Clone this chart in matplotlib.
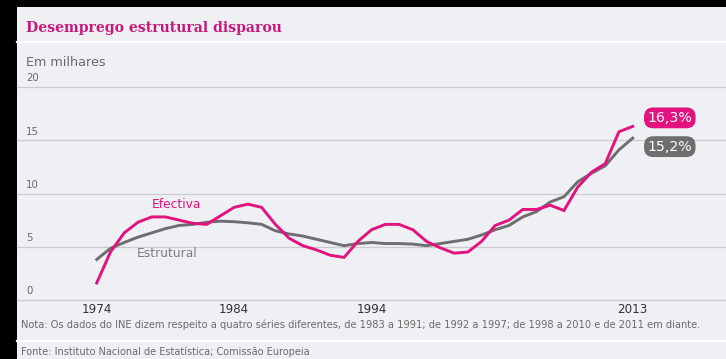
import matplotlib
matplotlib.use("Agg")
import matplotlib.pyplot as plt
from matplotlib.transforms import blended_transform_factory
from matplotlib.patches import Rectangle

# Series data (thousands, per the chart subtitle)
years = list(range(1974, 2014))
efectiva = [1.6, 4.5, 6.3, 7.3, 7.8, 7.8, 7.5, 7.2, 7.1, 7.9,
            8.7, 9.0, 8.7, 7.1, 5.8, 5.1, 4.7, 4.2, 4.0, 5.5,
            6.6, 7.1, 7.1, 6.6, 5.5, 4.9, 4.4, 4.5, 5.5, 7.0,
            7.5, 8.5, 8.5, 8.9, 8.4, 10.6, 12.0, 12.8, 15.8, 16.3]
estrutural = [3.8, 4.85, 5.4, 5.9, 6.3, 6.7, 7.0, 7.1, 7.3, 7.4,
              7.35, 7.25, 7.1, 6.5, 6.2, 6.0, 5.7, 5.4, 5.1, 5.3,
              5.4, 5.3, 5.3, 5.25, 5.1, 5.3, 5.5, 5.7, 6.1, 6.6,
              7.0, 7.8, 8.3, 9.2, 9.7, 11.1, 11.9, 12.6, 14.1, 15.2]
y_ticks = [0, 5, 10, 15, 20]
x_ticks = [1974, 1984, 1994, 2013]
end_labels = ["16,3%", "15,2%"]

title = "Desemprego estrutural disparou"
unit = "Em milhares"
note = ("Nota: Os dados do INE dizem respeito a quatro séries diferentes, "
        "de 1983 a 1991; de 1992 a 1997; de 1998 a 2010 e de 2011 em diante.")
source = "Fonte: Instituto Nacional de Estatística; Comissão Europeia"

PINK = "#e2127f"
GREY = "#6e6e6e"
BG = "#eef0f3"
GRID = "#c9cbce"
TXT = "#6a6a6a"
SANS = "DejaVu Sans"

W, H = 726, 359
fig = plt.figure(figsize=(W / 100, H / 100), dpi=100)
fig.patch.set_facecolor("black")

def fx(px):
    return px / W

def fy(py):
    return 1 - py / H

# light panel with black strips on the left and top
fig.add_artist(Rectangle((fx(17), 0), 1 - fx(17), fy(7), transform=fig.transFigure,
                         facecolor=BG, edgecolor="none", zorder=0))
# white separator lines
for py in (42, 341):
    fig.add_artist(plt.Line2D([fx(17), 1], [fy(py), fy(py)], transform=fig.transFigure,
                              color="white", lw=1.6, zorder=1))

fig.text(fx(26), fy(28), title, family="DejaVu Serif", weight="bold",
         fontsize=10.1, color="#c8177c", va="center", ha="left")
fig.text(fx(26), fy(62), unit, family=SANS, fontsize=9.2, color=TXT,
         va="center", ha="left")

# axes: value 0 at y=300px, 20 at y=87px; x spans the panel
x_left, x_right = 17, 726
px_per_year = (632.7 - 96.7) / 39
ax = fig.add_axes([fx(x_left), fy(300), fx(x_right - x_left), fy(87) - fy(300)])
ax.set_facecolor("none")
ax.set_xlim(1974 - (96.7 - x_left) / px_per_year, 2013 + (x_right - 632.7) / px_per_year)
ax.set_ylim(0, 20)
for s in ax.spines.values():
    s.set_visible(False)

ax.set_yticks(y_ticks)
ax.set_yticklabels([])
ax.tick_params(axis="y", length=0)
ax.grid(axis="y", color=GRID, lw=0.9)
ax.set_axisbelow(True)
for gl in ax.yaxis.get_gridlines():
    gl.set_clip_on(False)

lab_tr = blended_transform_factory(fig.transFigure, ax.transData)
for v in y_ticks:
    ax.text(fx(26), v + 0.8, str(v), transform=lab_tr, fontsize=7.4,
            family=SANS, color=TXT, va="center", ha="left")

ax.set_xticks(x_ticks)
ax.set_xticklabels([str(t) for t in x_ticks], family=SANS, fontsize=8.6, color="#333333")
ax.tick_params(axis="x", length=0, pad=2)

ax.plot(years, estrutural, color=GREY, lw=2.1, solid_joinstyle="miter", zorder=3)
ax.plot(years, efectiva, color=PINK, lw=2.1, solid_joinstyle="miter", zorder=4)

ax.text(1979.8, 9.0, "Efectiva", color=PINK, fontsize=8.8, family=SANS,
        ha="center", va="center")
ax.text(1979.1, 4.4, "Estrutural", color="#7d7d7d", fontsize=8.8, family=SANS,
        ha="center", va="center")

# end-value badges
ax.text(years[-1] + 2.7, efectiva[-1] + 0.8, end_labels[0], color="white",
        fontsize=10.2, family=SANS, ha="center", va="center", zorder=5,
        bbox=dict(boxstyle="round,pad=0.24,rounding_size=0.65", fc=PINK, ec="none"))
ax.text(years[-1] + 2.7, estrutural[-1] - 0.8, end_labels[1], color="white",
        fontsize=10.2, family=SANS, ha="center", va="center", zorder=5,
        bbox=dict(boxstyle="round,pad=0.24,rounding_size=0.65", fc=GREY, ec="none"))
for a in ax.lines:
    a.set_clip_on(False)

fig.text(fx(21), fy(325), note, family=SANS, fontsize=7.1, color=TXT,
         va="center", ha="left")
fig.text(fx(21), fy(352), source, family=SANS, fontsize=7.0, color=TXT,
         va="center", ha="left")

fig.savefig("out.png", dpi=100, facecolor=fig.get_facecolor())
